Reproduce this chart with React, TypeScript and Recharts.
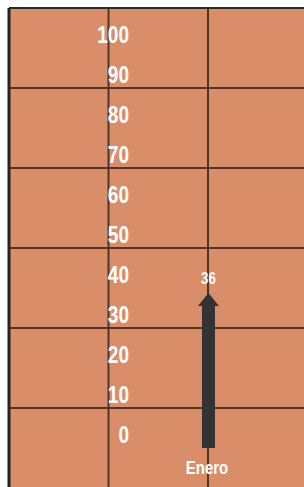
import React from "react";
import { BarChart, Bar, XAxis, YAxis, CartesianGrid, LabelList, ReferenceLine } from "recharts";

const meses = ["Enero"];
const valores = [36];
const yTicks = [0, 10, 20, 30, 40, 50, 60, 70, 80, 90, 100];
const gridValues = [-10, 10, 30, 50, 70, 90, 110];

const data = meses.map((mes, i) => ({ mes, valor: valores[i] }));

const FONT = "'Liberation Sans', Arial, sans-serif";

// condensed bold white text (no narrow font installed, so squeeze horizontally)
const NarrowText = ({ x, y, anchor, size, children }: any) => (
  <text
    transform={`translate(${x},${y}) scale(0.83,1)`}
    textAnchor={anchor}
    fill="#ffffff"
    fontFamily={FONT}
    fontWeight="bold"
    fontSize={size}
  >
    {children}
  </text>
);

// arrow-shaped bar: shaft + triangular head, thin line up to the value label
const ArrowBar = (props: any) => {
  const { x, y, width, height } = props;
  const cx = x + width / 2;
  const headBase = y + 2;
  const tip = y - 11;
  return (
    <g>
      <rect x={x} y={headBase} width={width} height={y + height - headBase} fill="#333333" />
      <path
        d={`M${cx - 10.5},${headBase} L${cx},${tip} L${cx + 10.5},${headBase} Z`}
        fill="#333333"
      />
      <line x1={cx} y1={tip} x2={cx} y2={tip - 7} stroke="#333333" strokeWidth={1} />
    </g>
  );
};

const YTick = (props: any) => (
  <NarrowText x={props.x + 120} y={props.y - 5} anchor="end" size={23}>
    {props.payload.value}
  </NarrowText>
);

const XTick = (props: any) => (
  <NarrowText x={props.x - 1} y={props.y - 14} anchor="middle" size={18}>
    {props.payload.value}
  </NarrowText>
);

const ValueLabel = (props: any) => (
  <NarrowText x={props.x + props.width / 2} y={props.y - 20} anchor="middle" size={16}>
    {props.value}
  </NarrowText>
);

export default function App() {
  return (
    <div style={{ position: "fixed", left: 6, top: 6, width: 298, height: 481, overflow: "hidden" }}>
      <BarChart
        width={401}
        height={483}
        data={data}
        margin={{ top: 2, right: 0, bottom: 0, left: 2 }}
      >
        <CartesianGrid
          fill="#D98E69"
          stroke="#4E3628"
          strokeWidth={2}
          horizontalValues={gridValues}
          verticalCoordinatesGenerator={({ offset }: any) => [
            offset.left + offset.width / 4,
            offset.left + offset.width / 2,
            offset.left + (offset.width * 3) / 4,
          ]}
        />
        <XAxis
          dataKey="mes"
          height={1}
          axisLine={false}
          tickLine={false}
          tickSize={0}
          tickMargin={0}
          tick={<XTick />}
        />
        <YAxis
          domain={[-10, 110]}
          ticks={yTicks}
          width={1}
          tickSize={0}
          tickMargin={0}
          tickLine={false}
          axisLine={{ stroke: "#222222", strokeWidth: 3 }}
          tick={<YTick />}
        />
        <ReferenceLine y={110} stroke="#2A2A2A" strokeWidth={2} />
        <Bar dataKey="valor" barSize={13} shape={<ArrowBar />} isAnimationActive={false}>
          <LabelList dataKey="valor" content={<ValueLabel />} />
        </Bar>
      </BarChart>
    </div>
  );
}
